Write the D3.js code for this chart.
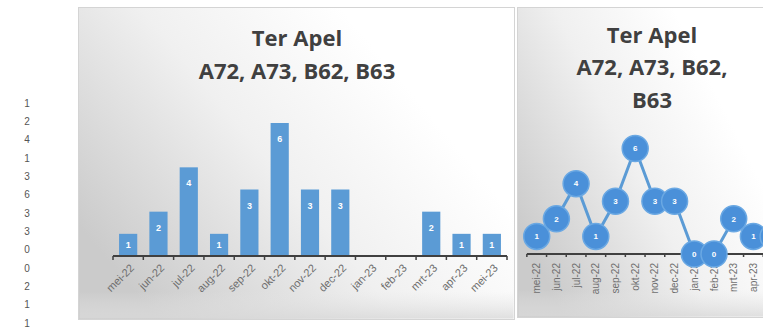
<!DOCTYPE html>
<html>
<head>
<meta charset="utf-8">
<script src="https://cdn.jsdelivr.net/npm/d3@7/dist/d3.min.js"></script>
<style>
  html, body { margin: 0; padding: 0; background: #ffffff; }
  svg { display: block; }
</style>
</head>
<body>
<svg id="chart" width="763" height="331"></svg>
<script>
// ---- data ----
const categories = ["mei-22", "jun-22", "jul-22", "aug-22", "sep-22", "okt-22", "nov-22",
                    "dec-22", "jan-23", "feb-23", "mrt-23", "apr-23", "mei-23"];
const values = [1, 2, 4, 1, 3, 6, 3, 3, 0, 0, 2, 1, 1];
const yDomain = [0, 6];
const titleLeft = ["Ter Apel", "A72, A73, B62, B63"];
const titleRight = ["Ter Apel", "A72, A73, B62,", "B63"];

const W = 763;
const svg = d3.select("#chart");
const blue = "#5b9bd5";
const axisColor = "#404040";
const titleFont = "'Open Sans', 'DejaVu Sans', sans-serif";
const labelFont = "Arial, 'Liberation Sans', sans-serif";
const points = values.map((v, i) => ({ cat: categories[i], v }));

// ---- gradients ----
const defs = svg.append("defs");
const g1 = defs.append("linearGradient").attr("id", "panelGrad")
  .attr("x1", "0%").attr("y1", "70%").attr("x2", "75%").attr("y2", "25%");
g1.append("stop").attr("offset", "0%").attr("stop-color", "#cbcbcb");
g1.append("stop").attr("offset", "55%").attr("stop-color", "#f0f0f0");
g1.append("stop").attr("offset", "100%").attr("stop-color", "#ffffff");
const g2 = defs.append("linearGradient").attr("id", "bottomShade")
  .attr("x1", "0").attr("y1", "0").attr("x2", "0").attr("y2", "1");
g2.append("stop").attr("offset", "0%").attr("stop-color", "#e6e6e6").attr("stop-opacity", 0);
g2.append("stop").attr("offset", "100%").attr("stop-color", "#d9d9d9").attr("stop-opacity", 0.8);

// ---- left column of values ----
const colY = d3.scalePoint().domain(d3.range(values.length)).range([103, 323]);
svg.append("g").selectAll("text").data(values).join("text")
  .attr("x", 27).attr("y", (d, i) => colY(i))
  .attr("dy", "0.35em").attr("text-anchor", "middle")
  .attr("font-family", labelFont).attr("font-size", 10).attr("fill", "#555")
  .text(d => d);

// ---- panels ----
function panel(x, y, w, h) {
  svg.append("rect").attr("x", x).attr("y", y).attr("width", w).attr("height", h)
    .attr("fill", "url(#panelGrad)").attr("stroke", "#d4d4d4").attr("stroke-width", 1);
  svg.append("rect").attr("x", x + 1).attr("y", y + h - 28).attr("width", w - 2).attr("height", 27)
    .attr("fill", "url(#bottomShade)");
}
panel(78.5, 7.5, 436, 312);
panel(517.5, 7.5, 260, 310);

function title(lines, cx, y0, lh) {
  svg.append("g").selectAll("text").data(lines).join("text")
    .attr("x", cx).attr("y", (d, i) => y0 + i * lh)
    .attr("dy", "0.35em").attr("text-anchor", "middle")
    .attr("font-family", titleFont).attr("font-weight", "bold")
    .attr("font-size", 22).attr("fill", "#404040")
    .text(d => d);
}
title(titleLeft, 297, 38, 33);
title(titleRight, 652, 35, 32.5);

// ---- left: bar chart ----
{
  const x = d3.scaleBand().domain(categories).range([113, 507]).paddingInner(0.4).paddingOuter(0.2);
  const y = d3.scaleLinear().domain(yDomain).range([256, 123]);
  const g = svg.append("g");
  g.selectAll("rect.bar").data(points).join("rect").attr("class", "bar")
    .attr("x", d => x(d.cat)).attr("width", x.bandwidth())
    .attr("y", d => y(d.v)).attr("height", d => y(0) - y(d.v))
    .attr("fill", blue);
  g.selectAll("text.val").data(points.filter(d => d.v > 0)).join("text").attr("class", "val")
    .attr("x", d => x(d.cat) + x.bandwidth() / 2)
    .attr("y", d => y(d.v) + Math.min(16, (y(0) - y(d.v)) / 2))
    .attr("dy", "0.35em").attr("text-anchor", "middle")
    .attr("font-family", labelFont).attr("font-weight", "bold").attr("font-size", 9).attr("fill", "#ffffff")
    .text(d => d.v);
  // axis
  const x0 = x.range()[0], x1 = x.range()[1];
  g.append("line").attr("x1", x0).attr("x2", x1).attr("y1", y(0)).attr("y2", y(0))
    .attr("stroke", axisColor).attr("stroke-width", 2);
  const bounds = d3.range(categories.length + 1).map(i => x0 + (x1 - x0) * i / categories.length);
  g.selectAll("line.tk").data(bounds).join("line").attr("class", "tk")
    .attr("x1", d => d).attr("x2", d => d).attr("y1", y(0)).attr("y2", y(0) + 4)
    .attr("stroke", axisColor).attr("stroke-width", 1.5);
  g.selectAll("text.cat").data(categories).join("text").attr("class", "cat")
    .attr("transform", d => `translate(${x(d) + x.bandwidth() / 2 + 4},${y(0) + 10}) rotate(-45)`)
    .attr("text-anchor", "end").attr("dy", "0.35em")
    .attr("font-family", labelFont).attr("font-size", 11).attr("fill", "#6e6e6e")
    .text(d => d);
}

// ---- right: line chart with labelled markers ----
{
  const x = d3.scalePoint().domain(categories).range([536.7, 536.7 + 12 * 19.7]);
  const y = d3.scaleLinear().domain(yDomain).range([254, 148.5]);
  const g = svg.append("g");
  const x0 = x.range()[0] - 9.85;
  const x1 = x.range()[1] + 9.85;
  g.append("line").attr("x1", x0).attr("x2", x1).attr("y1", y(0)).attr("y2", y(0))
    .attr("stroke", axisColor).attr("stroke-width", 2);
  const bounds = d3.range(categories.length + 1).map(i => x0 + 19.7 * i);
  g.selectAll("line.tk").data(bounds).join("line").attr("class", "tk")
    .attr("x1", d => d).attr("x2", d => d).attr("y1", y(0)).attr("y2", y(0) + 3)
    .attr("stroke", axisColor).attr("stroke-width", 1.5);
  // labels beyond the window edge are not visible in the reference (cropped)
  g.selectAll("text.cat").data(categories.filter(c => x(c) + 5 < W)).join("text").attr("class", "cat")
    .attr("transform", d => `translate(${x(d)},${y(0) + 9}) rotate(-90)`)
    .attr("text-anchor", "end").attr("dy", "0.35em")
    .attr("font-family", labelFont).attr("font-size", 10).attr("fill", "#6e6e6e")
    .text(d => d);
  const line = d3.line().x(d => x(d.cat)).y(d => y(d.v));
  g.append("path").datum(points).attr("d", line)
    .attr("fill", "none").attr("stroke", blue).attr("stroke-width", 3);
  g.selectAll("circle").data(points).join("circle")
    .attr("cx", d => x(d.cat)).attr("cy", d => y(d.v)).attr("r", 13)
    .attr("fill", "#4a90d9").attr("stroke", "#6aa8e3").attr("stroke-width", 1.5);
  g.selectAll("text.val").data(points.filter(d => x(d.cat) + 5 < W)).join("text").attr("class", "val")
    .attr("x", d => x(d.cat)).attr("y", d => y(d.v))
    .attr("dy", "0.35em").attr("text-anchor", "middle")
    .attr("font-family", labelFont).attr("font-weight", "bold").attr("font-size", 8).attr("fill", "#ffffff")
    .text(d => d.v);
}
</script>
</body>
</html>
